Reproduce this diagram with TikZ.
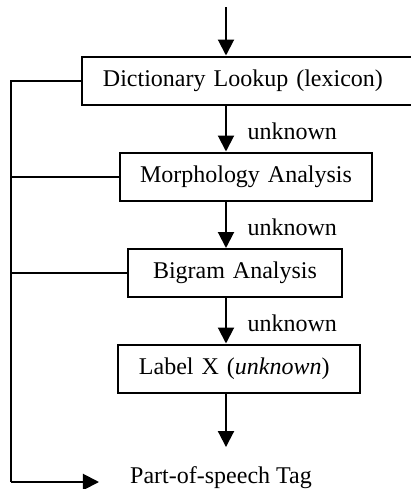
\documentclass[tikz,border=0pt]{standalone}
\usepackage{fontspec}
\setmainfont{Liberation Serif}
\usetikzlibrary{arrows.meta,positioning}

\begin{document}
\begin{tikzpicture}[x=0.5pt, y=-0.5pt,
        every node/.style={font=\fontsize{12}{14}\selectfont},
        box/.style={draw, line width=1pt, anchor=west, minimum height=24pt,
                inner xsep=10.5pt, inner ysep=0pt, align=left},
        arr/.style={line width=1pt, -{Triangle[length=8pt,width=8pt]}},
        link/.style={line width=1pt},
        lbl/.style={midway, right, xshift=7pt, yshift=-1.2pt}]
        \useasboundingbox (0, 0) rectangle (411, 489);
        % entry point and the left return line
        \coordinate (start) at (226, 7);
        \coordinate (corner) at (11, 482);
        \coordinate (tagend) at (99, 482);
        % processing steps
        \node[box, text width=170pt] (lookup) at (81, 80.5) {Dictionary Lookup (lexicon)};
        \node[box, text width=116pt, inner xsep=5pt, align=center] (morph) at (119, 176.5) {Morphology Analysis};
        \node[box, text width=97pt, inner xsep=5pt, align=center] (bigram) at (127, 273) {Bigram Analysis};
        \node[box, text width=100pt] (labelx) at (117, 368.5) {Label X (\textit{unknown})};
        \node[anchor=base] (tag) at (221, 483) {Part-of-speech Tag};
        % main flow
        \draw[arr] (start) -- (lookup.north -| start);
        \draw[arr] (lookup.south -| start) -- (morph.north -| start) node[lbl] {unknown};
        \draw[arr] (morph.south -| start) -- (bigram.north -| start) node[lbl] {unknown};
        \draw[arr] (bigram.south -| start) -- (labelx.north -| start) node[lbl] {unknown};
        \draw[arr, shorten >=6pt] (labelx.south -| start) -- (tag.north -| start);
        % found entries go straight to the tag
        \draw[link] (lookup.west) -| (corner);
        \draw[link] (morph.west) -- (morph.west -| corner);
        \draw[link] (bigram.west) -- (bigram.west -| corner);
        \draw[arr] (corner) -- (tagend);
\end{tikzpicture}
\end{document}
